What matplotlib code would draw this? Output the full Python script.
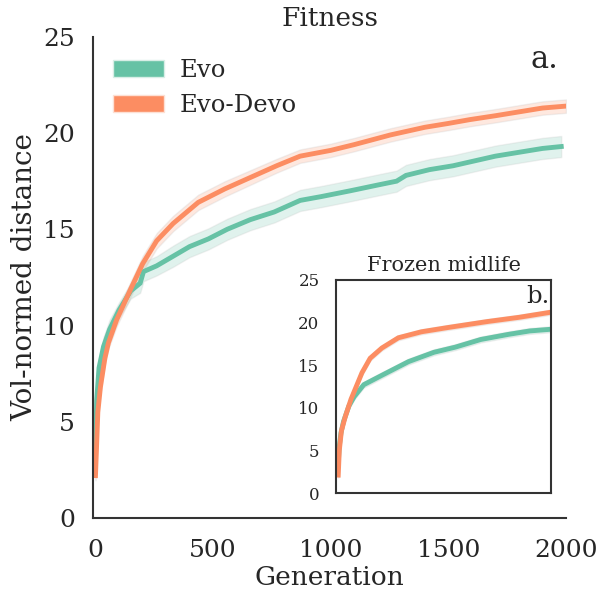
import numpy as np
import matplotlib.pyplot as plt
from matplotlib.patches import Patch

# main panel (a.)
gen_evo = [0, 5, 15, 34, 60, 100, 150, 190, 204, 260, 330, 400, 480, 560, 658, 760, 870, 960, 1083, 1200, 1280, 1320, 1420, 1520, 1592, 1700, 1800, 1900, 1980]
fit_evo = [3.0, 6.1, 7.8, 8.9, 9.8, 10.8, 11.8, 12.2, 12.8, 13.1, 13.6, 14.1, 14.5, 15.0, 15.5, 15.9, 16.5, 16.7, 17.0, 17.3, 17.5, 17.8, 18.1, 18.3, 18.5, 18.8, 19.0, 19.2, 19.3]
sd_evo = [0.3, 0.5, 0.5, 0.5, 0.5, 0.4, 0.4, 0.5, 0.5, 0.5, 0.55, 0.55, 0.55, 0.55, 0.55, 0.55, 0.55, 0.55, 0.55, 0.55, 0.55, 0.55, 0.55, 0.55, 0.55, 0.55, 0.55, 0.55, 0.55]

gen_devo = [0, 10, 21, 40, 55, 90, 150, 200, 260, 330, 437, 550, 660, 770, 870, 1000, 1100, 1253, 1400, 1500, 1592, 1700, 1800, 1900, 2000]
fit_devo = [2.2, 5.5, 6.8, 8.3, 9.1, 10.3, 11.9, 13.2, 14.4, 15.3, 16.4, 17.1, 17.7, 18.3, 18.8, 19.1, 19.4, 19.9, 20.3, 20.5, 20.7, 20.9, 21.1, 21.3, 21.4]
sd_devo = [0.25, 0.3, 0.3, 0.3, 0.3, 0.35, 0.4, 0.4, 0.4, 0.4, 0.4, 0.4, 0.38, 0.36, 0.35, 0.35, 0.35, 0.35, 0.35, 0.35, 0.35, 0.35, 0.35, 0.35, 0.35]

# inset panel (b.) frozen midlife
gen_evo_b = [0, 10, 25, 50, 100, 150, 240, 410, 660, 900, 1100, 1340, 1600, 1800, 2000]
fit_evo_b = [3.5, 5.5, 7.0, 8.4, 10.2, 11.3, 12.7, 13.8, 15.4, 16.5, 17.1, 18.0, 18.6, 19.0, 19.2]
sd_evo_b = [0.5, 0.5, 0.5, 0.4, 0.35, 0.35, 0.35, 0.35, 0.35, 0.35, 0.35, 0.35, 0.35, 0.35, 0.35]

gen_devo_b = [0, 10, 30, 65, 120, 223, 300, 410, 565, 781, 1030, 1400, 1700, 2000]
fit_devo_b = [2.1, 5.0, 7.3, 8.9, 11.0, 14.1, 15.8, 17.0, 18.2, 18.9, 19.4, 20.1, 20.6, 21.2]
sd_devo_b = [0.3, 0.3, 0.3, 0.3, 0.3, 0.3, 0.3, 0.3, 0.3, 0.3, 0.3, 0.3, 0.3, 0.3]

green = '#66c2a5'
orange = '#fc8d62'
plt.rcParams['font.family'] = 'DejaVu Serif'
plt.rcParams['text.color'] = '#262626'
plt.rcParams['xtick.color'] = '#262626'
plt.rcParams['ytick.color'] = '#262626'
plt.rcParams['axes.labelcolor'] = '#262626'

fig = plt.figure(figsize=(5.97, 5.94), dpi=100)
ax = fig.add_axes([0.156, 0.128, 0.792, 0.810])


def band(a, x, y, s, c, lw):
    x = np.array(x)
    y = np.array(y)
    s = np.array(s)
    a.fill_between(x, y - s, y + s, facecolor=c, alpha=0.2, edgecolor='#bbbbbb', linewidth=1)
    a.plot(x, y, color=c, lw=lw, solid_joinstyle='miter')


band(ax, gen_evo, fit_evo, sd_evo, green, 3.5)
band(ax, gen_devo, fit_devo, sd_devo, orange, 3.5)

ax.set_xlim(-10, 2000)
ax.set_ylim(0, 25)
ax.set_xticks([0, 500, 1000, 1500, 2000])
ax.set_yticks([0, 5, 10, 15, 20, 25])
ax.tick_params(length=0, labelsize=18)
ax.tick_params(axis='x', pad=15)
ax.tick_params(axis='y', pad=13)
for sp in ['top', 'right']:
    ax.spines[sp].set_visible(False)
for sp in ['left', 'bottom']:
    ax.spines[sp].set_color('#333333')
    ax.spines[sp].set_linewidth(1.5)
ax.set_xlabel('Generation', fontsize=19, labelpad=2)
ax.set_ylabel('Vol-normed distance', fontsize=20, labelpad=3.5)
ax.set_title('Fitness', fontsize=19, pad=8)
ax.text(0.985, 0.985, 'a.', transform=ax.transAxes, ha='right', va='top', fontsize=22)

handles = [Patch(facecolor=green, edgecolor='#d8eee6', label='Evo'),
           Patch(facecolor=orange, edgecolor='#fde0d4', label='Evo-Devo')]
ax.legend(handles=handles, loc='upper left', bbox_to_anchor=(-0.005, 1.0), frameon=False,
          fontsize=17.5, handlelength=2.1, handleheight=0.7, handletextpad=0.65, labelspacing=0.5)

# inset
axi = fig.add_axes([0.563, 0.170, 0.360, 0.359])
band(axi, gen_evo_b, fit_evo_b, sd_evo_b, green, 3.5)
band(axi, gen_devo_b, fit_devo_b, sd_devo_b, orange, 3.5)
axi.set_xlim(-20, 2000)
axi.set_ylim(0, 25)
axi.set_xticks([])
axi.set_yticks([0, 5, 10, 15, 20, 25])
axi.tick_params(length=0, labelsize=12, pad=12)
for sp in axi.spines.values():
    sp.set_color('#333333')
    sp.set_linewidth(1.5)
axi.set_title('Frozen midlife', fontsize=15, pad=6)
axi.text(0.995, 0.975, 'b.', transform=axi.transAxes, ha='right', va='top', fontsize=17.5)

plt.savefig('out.png', dpi=100)
